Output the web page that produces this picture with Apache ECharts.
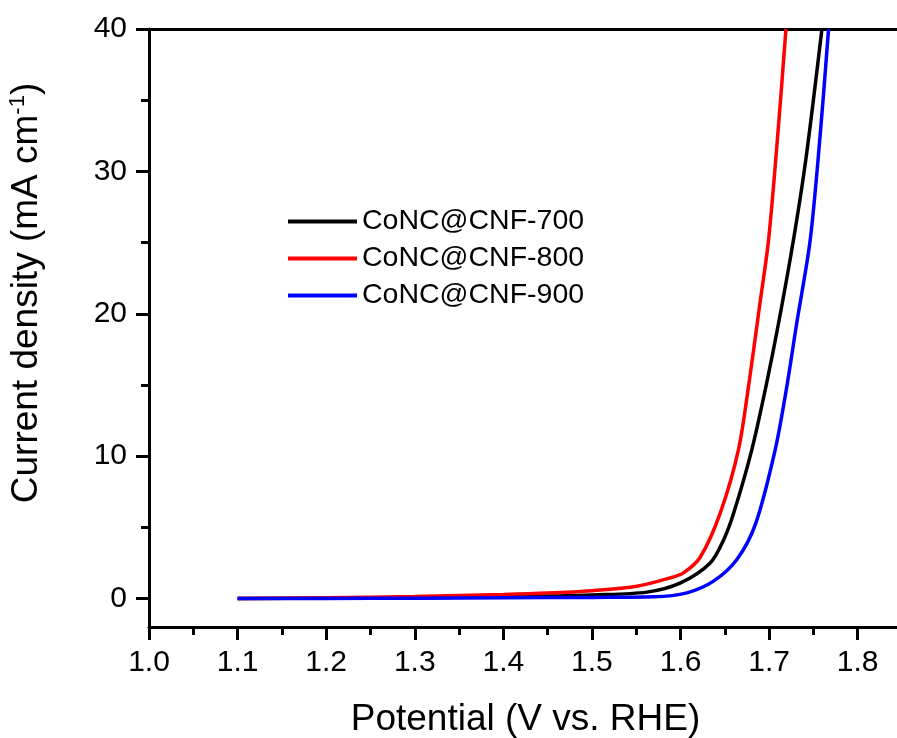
<!DOCTYPE html>
<html>
<head>
<meta charset="utf-8">
<script src="https://cdn.jsdelivr.net/npm/echarts@6/dist/echarts.min.js"></script>
<style>
  html, body { margin: 0; padding: 0; background: #fff; }
  #chart { width: 897px; height: 738px; }
</style>
</head>
<body>
<div id="chart"></div>
<script>
// potential (V vs. RHE), current density (mA cm-1)
var conc700 = [
  [1.10, 0.0], [1.20, 0.03], [1.30, 0.06], [1.40, 0.12], [1.45, 0.17],
  [1.50, 0.25], [1.562, 0.45], [1.60, 1.1], [1.6335, 2.5], [1.6485, 4.1],
  [1.660, 6.0], [1.6805, 10.46], [1.6971, 15.1], [1.7107, 19.35],
  [1.7275, 25.2], [1.7418, 31.0], [1.7596, 40.0]
]
var conc800 = [
  [1.10, 0.0], [1.20, 0.05], [1.30, 0.14], [1.40, 0.28], [1.45, 0.38],
  [1.50, 0.55], [1.5507, 0.86], [1.5883, 1.45], [1.6033, 1.8], [1.6222, 2.9],
  [1.6448, 6.0], [1.6654, 10.46], [1.6778, 15.37], [1.6891, 20.5],
  [1.6994, 25.2], [1.7102, 32.9], [1.7190, 40.0]
]
var conc900 = [
  [1.10, 0.0], [1.20, 0.01], [1.30, 0.02], [1.40, 0.05], [1.50, 0.08],
  [1.5695, 0.12], [1.6072, 0.4], [1.6372, 1.22], [1.6636, 2.74],
  [1.685, 5.3], [1.7069, 10.46], [1.7194, 14.67], [1.7312, 19.35],
  [1.7464, 25.2], [1.7581, 32.9], [1.7671, 40.0]
]
var seriesNames = ['CoNC@CNF-700', 'CoNC@CNF-800', 'CoNC@CNF-900']
var xTicks = [1.0, 1.1, 1.2, 1.3, 1.4, 1.5, 1.6, 1.7, 1.8]
var xMinorTicks = [1.05, 1.15, 1.25, 1.35, 1.45, 1.55, 1.65, 1.75]
var yTicks = [0, 10, 20, 30, 40]
var yMinorTicks = [5, 15, 25, 35]

var font = 'Liberation Sans, Arial, sans-serif'
var chart = echarts.init(document.getElementById('chart'))

function lineSeries (name, data, color) {
  return {
    name: name,
    type: 'line',
    data: data,
    showSymbol: false,
    symbol: 'none',
    smooth: 0.3,
    lineStyle: { color: color, width: 3.5 },
    itemStyle: { color: color }
  }
}

chart.setOption({
  animation: false,
  backgroundColor: '#fff',
  // keep the plot box fixed, the frame runs off the right edge like the original
  grid: { left: 149, top: 29, width: 753, height: 598, outerBoundsMode: 'none', containLabel: false },
  legend: {
    orient: 'vertical',
    left: 288,
    top: 207,
    padding: 0,
    icon: 'rect',
    itemWidth: 69,
    itemHeight: 4,
    itemGap: 8,
    textStyle: { fontFamily: font, fontSize: 28.5, color: '#000', lineHeight: 28 },
    data: seriesNames
  },
  xAxis: [{
    type: 'value',
    min: 1.0,
    max: 1.85,
    name: 'Potential (V vs. RHE)',
    nameLocation: 'middle',
    nameGap: 74,
    nameTextStyle: { fontFamily: font, fontSize: 37, color: '#000' },
    axisLine: { onZero: false, lineStyle: { color: '#000', width: 3 } },
    axisTick: { customValues: xTicks, length: 13, lineStyle: { color: '#000', width: 3 } },
    axisLabel: {
      customValues: xTicks,
      margin: 21,
      fontFamily: font,
      fontSize: 30,
      color: '#000',
      formatter: function (v) { return v.toFixed(1) }
    },
    splitLine: { show: false }
  }, {
    // minor ticks
    type: 'value',
    position: 'bottom',
    min: 1.0,
    max: 1.85,
    axisLine: { show: false, onZero: false },
    axisTick: { customValues: xMinorTicks, length: 8, lineStyle: { color: '#000', width: 3 } },
    axisLabel: { show: false },
    splitLine: { show: false }
  }, {
    // top frame line
    type: 'value',
    position: 'top',
    min: 1.0,
    max: 1.85,
    axisLine: { onZero: false, lineStyle: { color: '#000', width: 3 } },
    axisTick: { show: false },
    axisLabel: { show: false },
    splitLine: { show: false }
  }],
  yAxis: [{
    type: 'value',
    min: -2,
    max: 40,
    name: 'Current density (mA cm{sup|-1})',
    nameLocation: 'middle',
    nameGap: 102,
    nameTextStyle: {
      fontFamily: font,
      fontSize: 37,
      color: '#000',
      lineHeight: 40,
      padding: [0, 0, 0, 70],
      rich: {
        sup: { fontFamily: font, fontSize: 22, color: '#000', verticalAlign: 'top', lineHeight: 40 }
      }
    },
    axisLine: { onZero: false, lineStyle: { color: '#000', width: 3 } },
    axisTick: { customValues: yTicks, length: 13, lineStyle: { color: '#000', width: 3 } },
    axisLabel: {
      customValues: yTicks,
      margin: 22,
      fontFamily: font,
      fontSize: 30,
      color: '#000'
    },
    splitLine: { show: false }
  }, {
    // minor ticks
    type: 'value',
    position: 'left',
    min: -2,
    max: 40,
    axisLine: { show: false, onZero: false },
    axisTick: { customValues: yMinorTicks, length: 8, lineStyle: { color: '#000', width: 3 } },
    axisLabel: { show: false },
    splitLine: { show: false }
  }],
  series: [
    lineSeries(seriesNames[0], conc700, '#000000'),
    lineSeries(seriesNames[1], conc800, '#ff0000'),
    lineSeries(seriesNames[2], conc900, '#0000ff')
  ]
})
</script>
</body>
</html>
